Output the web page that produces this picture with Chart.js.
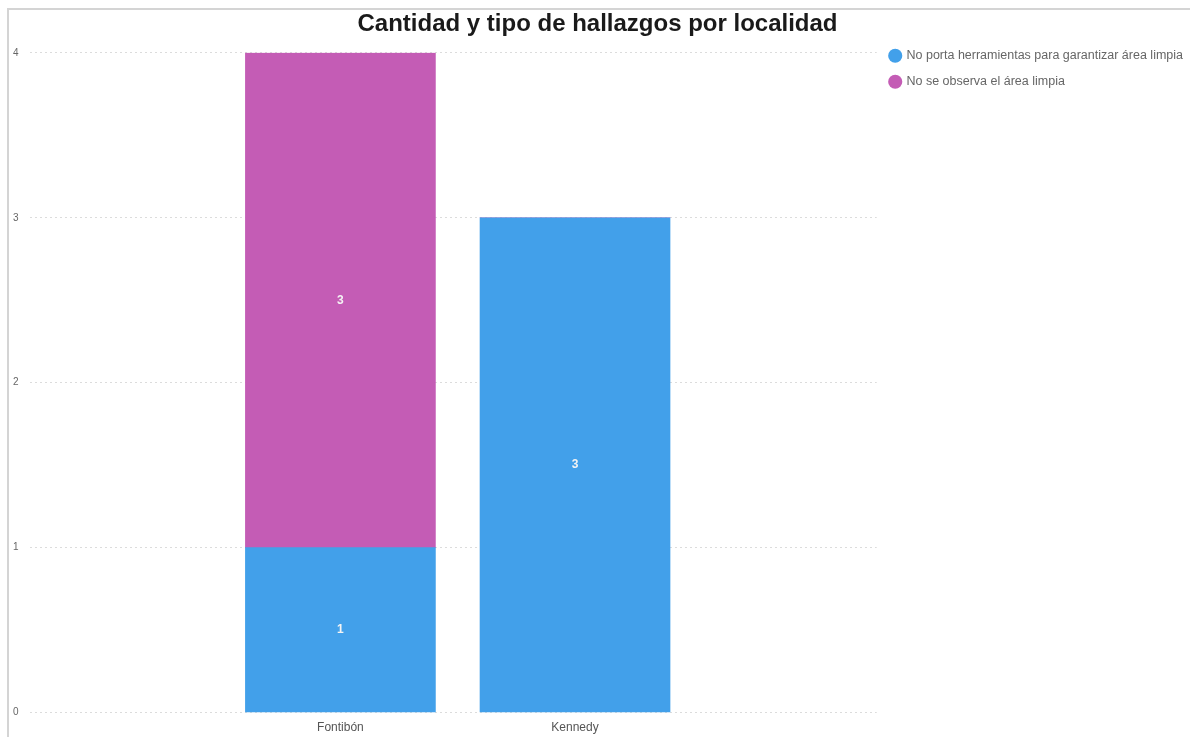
<!DOCTYPE html>
<html>
<head>
<meta charset="utf-8">
<script src="https://cdn.jsdelivr.net/npm/chart.js@4/dist/chart.umd.min.js"></script>
<style>
  html, body { margin: 0; padding: 0; background: #fff; }
  body { width: 1190px; height: 737px; position: relative; overflow: hidden; }
  #frame {
    position: absolute; left: 7px; top: 8px; width: 1183px; height: 729px;
    border-left: 2px solid #d4d4d4; border-top: 2px solid #d4d4d4;
  }
  #wrap { position: absolute; left: 0; top: 0; width: 1181px; height: 727px; }
</style>
</head>
<body>
<div id="frame"><div id="wrap"><canvas id="chart"></canvas></div></div>
<script>
"use strict";

const categories = ["Fontibón", "Kennedy"];
const seriesLabels = [
  "No porta herramientas para garantizar área limpia",
  "No se observa el área limpia"
];
const toolsValues = [1, 3];
const notCleanValues = [3, 0];
const yTicks = [0, 1, 2, 3, 4];

const BLUE = "#42a0ea";
const MAGENTA = "#c45cb5";
const FONT = "'Liberation Sans', Arial, sans-serif";

function toPoints(values) {
  return values.map((v, i) => ({ x: i, y: v }));
}

// white value labels in the middle of each segment
const barLabels = {
  id: "barLabels",
  afterDatasetsDraw(chart) {
    const ctx = chart.ctx;
    ctx.save();
    ctx.fillStyle = "#f4f4f4";
    ctx.font = "bold 12px " + FONT;
    ctx.textAlign = "center";
    ctx.textBaseline = "middle";
    chart.data.datasets.forEach((ds, di) => {
      const meta = chart.getDatasetMeta(di);
      meta.data.forEach((bar, i) => {
        const v = ds.data[i].y;
        if (!v) return;
        ctx.fillText(String(v), bar.x, (bar.y + bar.base) / 2);
      });
    });
    ctx.restore();
  }
};

new Chart(document.getElementById("chart"), {
  type: "bar",
  data: {
    datasets: [
      { label: seriesLabels[0], data: toPoints(toolsValues), backgroundColor: BLUE, barThickness: 190 },
      { label: seriesLabels[1], data: toPoints(notCleanValues), backgroundColor: MAGENTA, barThickness: 190 }
    ]
  },
  options: {
    responsive: true,
    maintainAspectRatio: false,
    animation: false,
    layout: { padding: { left: -7, right: -3, top: 0, bottom: 2 } },
    plugins: {
      title: {
        display: true,
        text: "Cantidad y tipo de hallazgos por localidad",
        color: "#1a1a1a",
        font: { family: FONT, size: 24, weight: "bold" },
        padding: { top: 0, bottom: 14 }
      },
      legend: {
        position: "right",
        align: "start",
        maxWidth: 340,
        title: {
          display: true,
          text: " ",
          font: { size: 10 },
          padding: { top: 0, bottom: 14 }
        },
        labels: {
          usePointStyle: true,
          pointStyle: "circle",
          boxWidth: 10,
          boxHeight: 10,
          padding: 13.5,
          color: "#666",
          font: { family: FONT, size: 12.5 }
        }
      },
      tooltip: { enabled: false }
    },
    scales: {
      x: {
        type: "linear",
        stacked: true,
        offset: false,
        min: -1.325,
        max: 2.286,
        grid: { display: false },
        border: { display: false },
        ticks: {
          stepSize: 1,
          autoSkip: false,
          includeBounds: false,
          maxRotation: 0,
          color: "#555",
          padding: 0,
          font: { family: FONT, size: 12 },
          callback: (v) => (Number.isInteger(v) && categories[v] !== undefined ? categories[v] : "")
        }
      },
      y: {
        stacked: true,
        min: yTicks[0],
        max: yTicks[yTicks.length - 1],
        border: { display: false, dash: [2, 3] },
        grid: { color: "#dcdcdc", drawTicks: false, tickLength: 0 },
        ticks: {
          stepSize: 1,
          padding: 11,
          color: "#666",
          font: { family: FONT, size: 10 }
        }
      }
    }
  },
  plugins: [barLabels]
});
</script>
</body>
</html>
